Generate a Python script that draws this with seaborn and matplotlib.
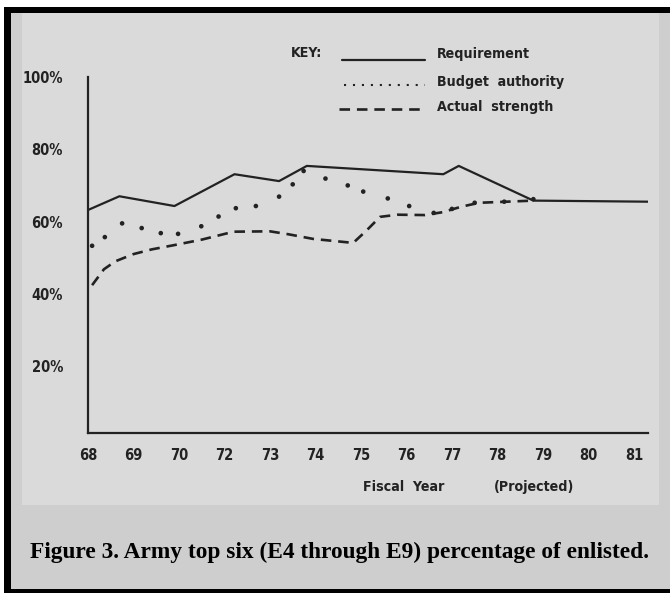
import matplotlib
matplotlib.use("Agg")
import matplotlib.pyplot as plt
from matplotlib.patches import Rectangle
import pandas as pd
import seaborn as sns

# positions along the fiscal-year axis (tick index)
year_labels = ["68", "69", "70", "72", "73", "74", "75", "76", "77",
               "78", "79", "80", "81"]

req_x = [0.0, 0.69, 1.9, 3.22, 4.2, 4.81, 7.81, 8.15, 9.79, 12.31]
req_y = [63.2, 67.0, 64.3, 73.1, 71.2, 75.4, 73.1, 75.4, 65.8, 65.5]

budget_x = [0.09, 0.37, 0.75, 1.18, 1.6, 1.98, 2.49, 2.87, 3.25, 3.69,
            4.2, 4.5, 4.74, 5.22, 5.71, 6.05, 6.59, 7.06, 7.6, 8.0,
            8.5, 9.15, 9.79]
budget_y = [53.3, 55.7, 59.5, 58.2, 56.8, 56.6, 58.7, 61.4, 63.7, 64.3,
            66.9, 70.3, 74.0, 71.9, 70.0, 68.3, 66.4, 64.3, 62.4, 63.5,
            65.2, 65.5, 66.2]

actual_x = [0.09, 0.35, 0.6, 1.0, 1.4, 1.9, 2.5, 3.2, 4.0, 4.4, 4.95,
            5.83, 6.12, 6.42, 6.8, 7.4, 7.8, 8.2, 8.6, 9.2, 9.79]
actual_y = [42.4, 46.8, 49.0, 51.0, 52.3, 53.5, 55.0, 57.2, 57.3, 56.5,
            55.2, 54.1, 57.5, 61.3, 61.9, 61.8, 62.6, 64.1, 65.2, 65.5,
            65.8]

y_ticks = [20, 40, 60, 80, 100]

INK = "#222222"
NARROW = ["DejaVu Sans"]


def main():
    sns.set_style("white")
    plt.rcParams["font.family"] = NARROW
    plt.rcParams["font.stretch"] = "condensed"

    W, H = 670, 593
    fig = plt.figure(figsize=(W / 100, H / 100), dpi=100)
    fig.patch.set_facecolor("white")

    def px(x0, y0, x1, y1, color, z=0):
        fig.add_artist(Rectangle((x0 / W, 1 - y1 / H), (x1 - x0) / W,
                                 (y1 - y0) / H, transform=fig.transFigure,
                                 facecolor=color, edgecolor="none", zorder=z))

    # page frame: grey board, lighter scanned area, black borders
    px(4, 6.7, 670, 593, "#cecece", -3)
    px(22, 12.7, 659, 505, "#dadada", -2)
    px(4, 6.7, 670, 12.7, "black", 5)
    px(4, 6.7, 11, 593, "black", 5)
    px(4, 589, 670, 593, "black", 5)

    ax = fig.add_axes([88 / W, 1 - 433 / H, (648 - 88) / W, (433 - 77) / H])
    ax.set_facecolor("none")

    req = pd.DataFrame({"x": req_x, "y": req_y})
    act = pd.DataFrame({"x": actual_x, "y": actual_y})
    bud = pd.DataFrame({"x": budget_x, "y": budget_y})

    sns.lineplot(data=req, x="x", y="y", ax=ax, color=INK, lw=1.6,
                 sort=False)
    sns.lineplot(data=act, x="x", y="y", ax=ax, color=INK, lw=1.9,
                 sort=False, linestyle=(0, (4, 2.6)))
    sns.scatterplot(data=bud, x="x", y="y", ax=ax, color=INK, s=11,
                    edgecolor="none")

    ax.set_xlim(0, 12.31)
    ax.set_ylim(1.5, 100)
    ax.set_xticks(range(len(year_labels)))
    ax.set_xticklabels(year_labels)
    ax.set_yticks(y_ticks)
    ax.set_yticklabels([f"{v}%" for v in y_ticks])
    ax.set_xlabel("")
    ax.set_ylabel("")
    for side in ["top", "right"]:
        ax.spines[side].set_visible(False)
    for side in ["left", "bottom"]:
        ax.spines[side].set_color(INK)
        ax.spines[side].set_linewidth(1.6)
    ax.tick_params(axis="y", direction="out", length=6, width=1.5,
                   color=INK, pad=12, labelsize=10.5, labelcolor=INK)
    ax.tick_params(axis="x", direction="out", length=7, width=1.5,
                   color=INK, pad=4, labelsize=10.5, labelcolor=INK)
    for lab in ax.get_xticklabels() + ax.get_yticklabels():
        lab.set_fontweight("bold")
        lab.set_fontstretch("condensed")

    # key drawn in figure pixels
    def fx(x):
        return x / W

    def fy(y):
        return 1 - y / H

    kw = dict(transform=fig.transFigure, color=INK)
    tkw = dict(transform=fig.transFigure, color=INK, fontsize=10.2,
               fontweight="bold", va="center", family=NARROW,
               fontstretch="condensed")
    fig.text(fx(291), fy(53), "KEY:", ha="left", **tkw)
    fig.add_artist(plt.Line2D([fx(342), fx(425)], [fy(59.5), fy(59.5)],
                              lw=1.6, **kw))
    fig.add_artist(plt.Line2D([fx(344), fx(425)], [fy(85), fy(85)],
                              lw=1.5, linestyle=(0, (1, 3.3)), **kw))
    fig.add_artist(plt.Line2D([fx(339), fx(425)], [fy(109), fy(109)],
                              lw=1.9, linestyle=(0, (4, 2.6)), **kw))
    fig.text(fx(437), fy(54), "Requirement", ha="left", **tkw)
    fig.text(fx(437), fy(82), "Budget  authority", ha="left", **tkw)
    fig.text(fx(437), fy(106.5), "Actual  strength", ha="left", **tkw)

    fig.text(fx(404), fy(487), "Fiscal  Year", ha="center", **tkw)
    fig.text(fx(534), fy(487), "(Projected)", ha="center", **tkw)

    fig.text(fx(340), fy(552),
             "Figure 3. Army top six (E4 through E9) percentage of enlisted.",
             ha="center", va="center", fontsize=16.8, fontweight="bold",
             family=["Liberation Serif", "DejaVu Serif"], color="black")

    fig.savefig("out.png", dpi=100, facecolor=fig.get_facecolor())


if __name__ == "__main__":
    main()
